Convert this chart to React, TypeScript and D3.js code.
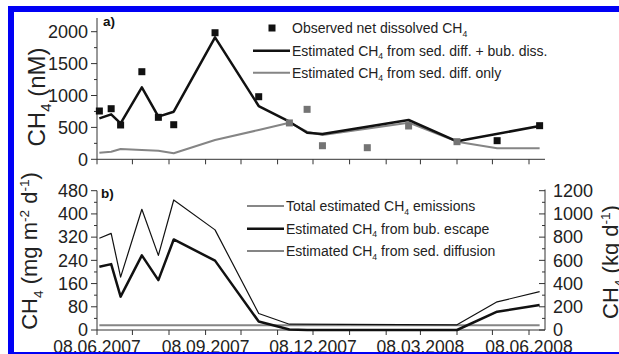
import React from "react";
import * as d3 from "d3";

const sampleDates = [
  "2007-06-10", "2007-06-20", "2007-06-28", "2007-07-16", "2007-07-30", "2007-08-12",
  "2007-09-16", "2007-10-23", "2007-11-18", "2007-12-03", "2007-12-16", "2008-01-23",
  "2008-02-27", "2008-04-08", "2008-05-12", "2008-06-17",
];
const observed = [757, 793, 538, 1373, 658, 542, 1984, 981, 570, 783, 213, 182, 522, 276, 292, 527];
const observedFlagged = [false, false, false, false, false, false, false, false, true, true, true, true, true, true, false, false];
const estSedBub: (number | null)[] = [642, 705, 564, 1128, 668, 746, 1912, 835, 589, 417, 397, null, 616, 282, null, 522];
const estSedOnly: (number | null)[] = [103, 119, 161, 146, 135, 94, 302, 459, 574, 433, 381, null, 574, 276, 172, 172];

const totalEmission: (number | null)[] = [316, 333, 182, 416, 257, 448, 345, 57, 20, null, null, null, null, 18, 97, 132];
const bubEscape: (number | null)[] = [218, 227, 115, 257, 172, 312, 239, 29, 2, 0, null, null, null, 0, 63, 86];
const sedDiffusion: (number | null)[] = [16, 16, 16, 16, 16, 16, 16, 16, 16, 16, 16, 16, 16, 16, 16, 16];

const yTicksA = [0, 500, 1000, 1500, 2000];
const yMinorA = [250, 750, 1250, 1750];
const yTicksB = [0, 80, 160, 240, 320, 400, 480];
const yMinorB = [40, 120, 200, 280, 360, 440];
const yTicksBR = [0, 200, 400, 600, 800, 1000, 1200];
const yMinorBR = [100, 300, 500, 700, 900, 1100];
const xTickLabels = ["08.06.2007", "08.09.2007", "08.12.2007", "08.03.2008", "08.06.2008"];

const parse = d3.timeParse("%Y-%m-%d");
const dates = sampleDates.map((s) => parse(s) as Date);

const FONT = "'Liberation Sans', Arial, sans-serif";
const AX = "#333";
const GRAY_LINE = "#858585";
const GRAY_SQ = "#747474";

const x = d3.scaleTime().domain([new Date(2007, 5, 8), new Date(2008, 5, 8)]).range([97, 529]);
const xEnd = 545;
const ya = d3.scaleLinear().domain([0, 2000]).range([159.3, 31.7]);
const yb = d3.scaleLinear().domain([0, 480]).range([330, 190.7]);
const ybr = d3.scaleLinear().domain([0, 1200]).range([330, 190.7]);

const monthTicks = d3.range(0, 13).map((m) => new Date(2007, 5 + m, 8));

function pathFor(vals: (number | null)[], y: d3.ScaleLinear<number, number>) {
  const pts = vals
    .map((v, i) => (v == null ? null : ([x(dates[i]), y(v)] as [number, number])))
    .filter((p) => p != null) as [number, number][];
  return d3.line()(pts) || "";
}

function Sub({ pre, sub, post, size }: { pre: string; sub: string; post: string; size: number }) {
  const s = size * 0.62;
  const d = size * 0.25;
  return (
    <>
      <tspan>{pre}</tspan>
      <tspan fontSize={s} dy={d}>{sub}</tspan>
      <tspan dy={-d}>{post}</tspan>
    </>
  );
}

function XAxis({ y0, labels }: { y0: number; labels: boolean }) {
  return (
    <g>
      <line x1={97} x2={xEnd} y1={y0} y2={y0} stroke={AX} strokeWidth={1} />
      {monthTicks.map((t, i) => (
        <line key={i} x1={x(t)} x2={x(t)} y1={y0} y2={y0 + 5} stroke={AX} strokeWidth={1} />
      ))}
      {labels &&
        monthTicks
          .filter((_, i) => i % 3 === 0)
          .map((t, i) => (
            <text key={i} x={x(t)} y={353} textAnchor="middle" fontSize={17.5} fill="#222" fontFamily={FONT}>
              {xTickLabels[i]}
            </text>
          ))}
    </g>
  );
}

function YAxis({ scale, majors, minors, x0, top, side }: { scale: d3.ScaleLinear<number, number>; majors: number[]; minors: number[]; x0: number; top: number; side: "left" | "right" }) {
  const dir = -1;
  return (
    <g>
      <line x1={x0} x2={x0} y1={scale(0)} y2={top} stroke={AX} strokeWidth={1} />
      {majors.map((v) => (
        <line key={"M" + v} x1={x0} x2={x0 + dir * 6} y1={scale(v)} y2={scale(v)} stroke={AX} strokeWidth={1} />
      ))}
      {minors.map((v) => (
        <line key={"m" + v} x1={x0} x2={x0 + dir * 3} y1={scale(v)} y2={scale(v)} stroke={AX} strokeWidth={1} />
      ))}
      {majors.map((v) => (
        <text
          key={"t" + v}
          x={side === "left" ? x0 - 9 : x0 + 8}
          y={scale(v) + 6.3}
          textAnchor={side === "left" ? "end" : "start"}
          fontSize={18}
          fill="#222"
          fontFamily={FONT}
        >
          {v}
        </text>
      ))}
    </g>
  );
}

export default function App() {
  const sq = 7;
  return (
    <svg width={619} height={354} style={{ position: "absolute", left: 0, top: 0, background: "#fff" }} fontFamily={FONT}>
      <rect x={0} y={0} width={619} height={354} fill="#fff" />

      {/* Panel a */}
      <YAxis scale={ya} majors={yTicksA} minors={yMinorA} x0={97} top={18} side="left" />
      <XAxis y0={159.3} labels={false} />
      <text x={103} y={26} fontSize={13.5} fontWeight="bold" fill="#111">a)</text>
      <path d={pathFor(estSedOnly, ya)} fill="none" stroke={GRAY_LINE} strokeWidth={2} strokeLinejoin="round" />
      <path d={pathFor(estSedBub, ya)} fill="none" stroke="#111" strokeWidth={2.5} strokeLinejoin="round" />
      {observed.map((v, i) => (
        <rect key={i} x={x(dates[i]) - sq / 2} y={ya(v) - sq / 2} width={sq} height={sq} fill={observedFlagged[i] ? GRAY_SQ : "#111"} />
      ))}
      <text transform="translate(45,97) rotate(-90)" textAnchor="middle" fontSize={24} fill="#222">
        <Sub pre="CH" sub="4" post=" (nM)" size={24} />
      </text>

      {/* Legend a */}
      <rect x={272 - sq / 2} y={28 - sq / 2} width={sq} height={sq} fill="#111" />
      <text x={292} y={33} fontSize={14} fill="#222"><Sub pre="Observed net dissolved CH" sub="4" post="" size={14} /></text>
      <line x1={253} x2={290} y1={50.7} y2={50.7} stroke="#111" strokeWidth={2.5} />
      <text x={292} y={55.5} fontSize={14} fill="#222"><Sub pre="Estimated CH" sub="4" post=" from sed. diff. + bub. diss." size={14} /></text>
      <line x1={253} x2={290} y1={72.7} y2={72.7} stroke={GRAY_LINE} strokeWidth={2} />
      <text x={292} y={77.5} fontSize={14} fill="#222"><Sub pre="Estimated CH" sub="4" post=" from sed. diff. only" size={14} /></text>

      {/* Panel b */}
      <YAxis scale={yb} majors={yTicksB} minors={yMinorB} x0={97} top={190.7} side="left" />
      <YAxis scale={ybr} majors={yTicksBR} minors={yMinorBR} x0={xEnd} top={189.5} side="right" />
      <XAxis y0={330} labels={true} />
      <text x={101} y={198} fontSize={13.5} fontWeight="bold" fill="#111">b)</text>
      <path d={pathFor(sedDiffusion, yb)} fill="none" stroke={GRAY_LINE} strokeWidth={2} />
      <path d={pathFor(totalEmission, yb)} fill="none" stroke="#111" strokeWidth={1.2} strokeLinejoin="round" />
      <path d={pathFor(bubEscape, yb)} fill="none" stroke="#111" strokeWidth={2.5} strokeLinejoin="round" />
      <text transform="translate(37,251) rotate(-90)" textAnchor="middle" fontSize={22} fill="#222">
        <tspan>CH</tspan>
        <tspan fontSize={13.6} dy={5.5}>4</tspan>
        <tspan dy={-5.5}> (mg m</tspan>
        <tspan fontSize={13.6} dy={-8}>-2</tspan>
        <tspan dy={8}> d</tspan>
        <tspan fontSize={13.6} dy={-8}>-1</tspan>
        <tspan dy={8}>)</tspan>
      </text>
      <text transform="translate(618,262) rotate(-90)" textAnchor="middle" fontSize={22} fill="#222">
        <tspan>CH</tspan>
        <tspan fontSize={13.6} dy={5.5}>4</tspan>
        <tspan dy={-5.5}> (kg d</tspan>
        <tspan fontSize={13.6} dy={-8}>-1</tspan>
        <tspan dy={8}>)</tspan>
      </text>

      {/* Legend b */}
      <line x1={247} x2={284} y1={206} y2={206} stroke="#111" strokeWidth={1.2} />
      <text x={286} y={211} fontSize={14} fill="#222"><Sub pre="Total estimated CH" sub="4" post=" emissions" size={14} /></text>
      <line x1={247} x2={284} y1={228.7} y2={228.7} stroke="#111" strokeWidth={2.5} />
      <text x={286} y={233.7} fontSize={14} fill="#222"><Sub pre="Estimated CH" sub="4" post=" from bub. escape" size={14} /></text>
      <line x1={247} x2={284} y1={251} y2={251} stroke={GRAY_LINE} strokeWidth={2} />
      <text x={286} y={256} fontSize={14} fill="#222"><Sub pre="Estimated CH" sub="4" post=" from sed. diffusion" size={14} /></text>

      {/* Blue frame */}
      <rect x={8} y={6} width={611} height={6} fill="#0000f5" />
      <rect x={8} y={6} width={6} height={348} fill="#0000f5" />
      <rect x={8} y={352} width={611} height={2} fill="#0000f5" />
    </svg>
  );
}
